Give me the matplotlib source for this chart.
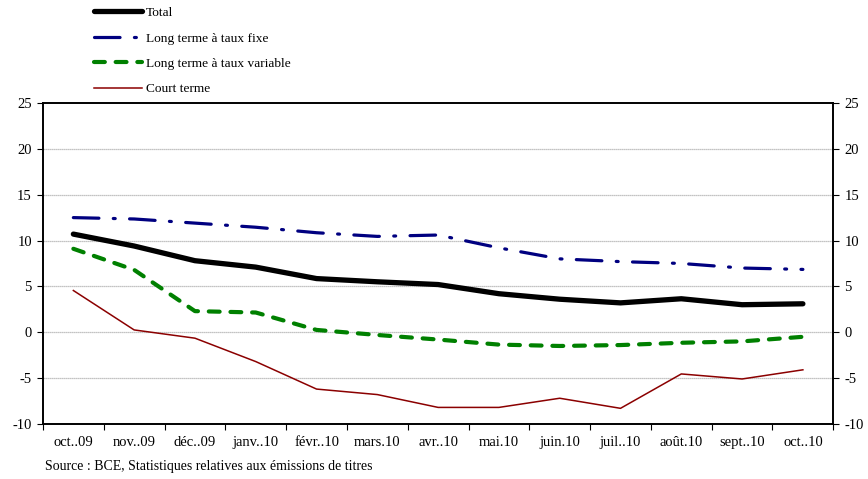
import numpy as np
import matplotlib
matplotlib.use('Agg')
from matplotlib import pyplot as plt

plt.rcParams['font.family'] = ['Liberation Serif', 'DejaVu Serif']
plt.rcParams['axes.unicode_minus'] = False

mois = ["oct..09", "nov..09", "déc..09", "janv..10", "févr..10", "mars.10", "avr..10",
        "mai.10", "juin.10", "juil..10", "août.10", "sept..10", "oct..10"]

total = [10.7, 9.4, 7.8, 7.1, 5.85, 5.5, 5.2, 4.2, 3.6, 3.2, 3.65, 3.0, 3.1]
fixe = [12.5, 12.35, 11.9, 11.45, 10.85, 10.45, 10.6, 9.2, 8.0, 7.7, 7.5, 7.0, 6.85]
variable = [9.1, 6.8, 2.3, 2.15, 0.25, -0.3, -0.8, -1.35, -1.5, -1.4, -1.15, -1.0, -0.5]
court = [4.55, 0.25, -0.65, -3.2, -6.2, -6.8, -8.2, -8.2, -7.2, -8.3, -4.55, -5.1, -4.1]

yticks = [-10, -5, 0, 5, 10, 15, 20, 25]

fig = plt.figure(figsize=(8.68, 4.79), dpi=100)
ax = fig.add_axes([0.0495, 0.115, 0.9105, 0.67])

x = np.arange(len(mois))

# grid
for v in yticks[1:-1]:
    ax.axhline(v, color='#b0b0b0', lw=0.9, ls=(0, (1, 0.6)), zorder=1)

l1, = ax.plot(x, total, color='black', lw=3.8, solid_capstyle='round', zorder=4, label='Total')
l2, = ax.plot(x, fixe, color='#000080', lw=2.3, dashes=(8, 4.5, 0.6, 4.5), zorder=3,
              label='Long terme à taux fixe')
l2.set_dash_capstyle('round')
l3, = ax.plot(x, variable, color='#008000', lw=3.0, dashes=(2.6, 2.6), zorder=3,
              label='Long terme à taux variable')
l3.set_dash_capstyle('round')
l4, = ax.plot(x, court, color='#8B0000', lw=1.1, zorder=3, label='Court terme')

ax.set_xlim(-0.5, len(mois) - 0.5)
ax.set_ylim(-10, 25)
ax.set_yticks(yticks)
ax.tick_params(axis='y', labelsize=10.5, length=4, direction='out', pad=4)
ax.set_xticks(np.arange(-0.5, len(mois)), [''] * (len(mois) + 1))
ax.set_xticks(x, mois, minor=True)
ax.tick_params(axis='x', which='major', length=4, direction='out')
ax.tick_params(axis='x', which='minor', length=0, labelsize=10.5, pad=9)

ax2 = ax.twinx()
ax2.set_ylim(-10, 25)
ax2.set_yticks(yticks)
ax2.tick_params(axis='y', labelsize=10.5, length=4, direction='out', pad=4)

for a in (ax, ax2):
    for s in a.spines.values():
        s.set_linewidth(1.2)

fig.legend(handles=[l1, l2, l3, l4], loc='upper left', bbox_to_anchor=(0.102, 0.997),
           frameon=False, fontsize=9.6, handlelength=3.6, handletextpad=0.3,
           labelspacing=0.98, borderaxespad=0)

fig.text(0.052, 0.018, "Source : BCE, Statistiques relatives aux émissions de titres", fontsize=10)

fig.savefig('out.png', dpi=100)
